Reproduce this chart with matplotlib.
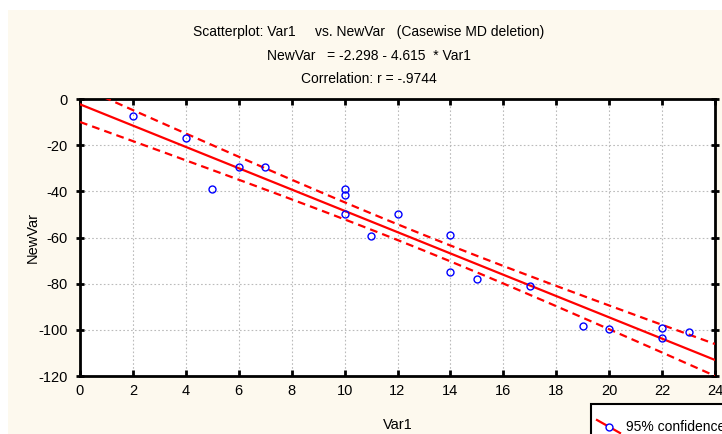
import numpy as np
import matplotlib
matplotlib.use("Agg")
import matplotlib.pyplot as plt
from matplotlib.patches import Rectangle
from matplotlib.lines import Line2D

# ---- data ----
var1 = [2, 4, 5, 6, 7, 10, 10, 10, 11, 12, 14, 14, 15, 17, 19, 20, 22, 22, 23]
newvar = [-7.5, -17, -39, -29.5, -29.5, -39, -41.5, -50, -59.5, -50,
          -59, -75, -78, -81, -98.5, -99.5, -99, -103.5, -101]
intercept = -2.298
slope = -4.615
t_crit = 2.1098  # t(0.975, df=17)
xticks = [0, 2, 4, 6, 8, 10, 12, 14, 16, 18, 20, 22, 24]
yticks = [0, -20, -40, -60, -80, -100, -120]
title_lines = ["Scatterplot: Var1     vs. NewVar   (Casewise MD deletion)",
               "NewVar   = -2.298 - 4.615  * Var1",
               "Correlation: r = -.9744"]

plt.rcParams['font.family'] = ['Liberation Sans', 'DejaVu Sans']
plt.rcParams['axes.unicode_minus'] = False

W, H = 722, 434
fig = plt.figure(figsize=(W / 100, H / 100), dpi=100, facecolor='white')
cream = '#fdf9ee'
fig.patches.append(Rectangle((8 / W, 0), 1, 1 - 10 / H, transform=fig.transFigure,
                             facecolor=cream, edgecolor='none', zorder=-10))

ax = fig.add_axes([80 / W, (H - 376) / H, (715 - 80) / W, (376 - 99) / H])
ax.set_facecolor('white')

x = np.array(var1, float)
y = np.array(newvar, float)
n = len(x)
xs = np.linspace(0, 24, 200)
fit = intercept + slope * xs
resid = y - (intercept + slope * x)
s = np.sqrt(np.sum(resid ** 2) / (n - 2))
sxx = np.sum((x - x.mean()) ** 2)
half = t_crit * s * np.sqrt(1 / n + (xs - x.mean()) ** 2 / sxx)

ax.plot(xs, fit, color='red', lw=1.6, zorder=3)
ax.plot(xs, fit + half, color='red', lw=1.6, ls=(0, (3.5, 2.3)), zorder=3)
ax.plot(xs, fit - half, color='red', lw=1.6, ls=(0, (3.5, 2.3)), zorder=3)
ax.plot(x, y, 'o', mfc='none', mec='blue', ms=5, mew=1, zorder=4)

ax.set_xlim(0, 24)
ax.set_ylim(-120, 0)
ax.set_xticks(xticks)
ax.set_yticks(yticks)
ax.grid(True, color='#bbbbbb', ls=(0, (1.5, 2)), lw=0.8)
ax.set_axisbelow(True)
for sp in ax.spines.values():
    sp.set_linewidth(2)
    sp.set_color('black')
ax.tick_params(direction='in', length=4, width=2, labelsize=10.5, pad=6,
               top=True, right=True, labelcolor='black')
ax.tick_params(axis='y', direction='inout', length=6)
ax.set_xlabel("Var1", fontsize=10.5, labelpad=14)
ax.set_ylabel("NewVar", fontsize=10.5, labelpad=-1)

for i, t in enumerate(title_lines):
    fig.text(369 / W, 1 - (32 + 23.5 * i) / H, t, ha='center', va='center', fontsize=10)

# legend (partially outside the figure, as in the reference)
fig.patches.append(Rectangle((591 / W, -0.1), 0.3, (434 - 404) / H + 0.1,
                             transform=fig.transFigure, facecolor='white',
                             edgecolor='black', lw=1.5, zorder=5))
fig.lines.append(Line2D([597 / W, 620 / W], [1 - 420 / H, 1 - 433 / H],
                        transform=fig.transFigure, color='red', lw=1.6, zorder=6))
fig.lines.append(Line2D([609 / W], [1 - 426.5 / H], transform=fig.transFigure,
                        marker='o', mfc='white', mec='blue', ms=5, mew=1, zorder=7))
fig.text(626 / W, 1 - 427 / H, "95% confidence", ha='left', va='center',
         fontsize=10, zorder=8)

fig.savefig("out.png", dpi=100)
